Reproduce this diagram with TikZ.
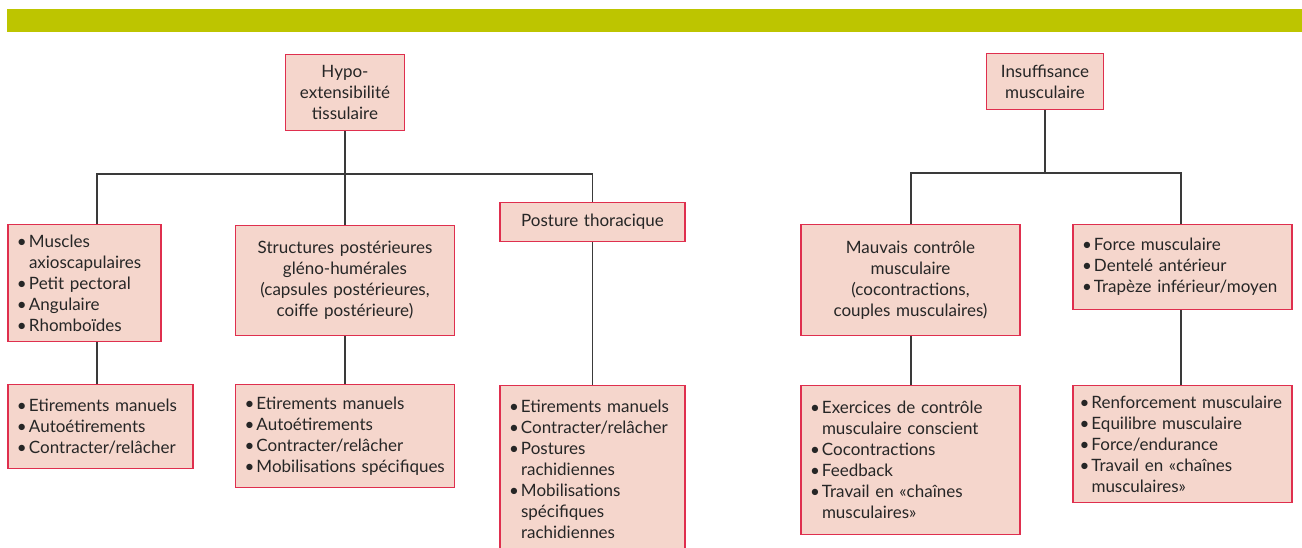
\documentclass[tikz,border=0pt]{standalone}
\usepackage{fontspec}
\setmainfont{Lato}
\definecolor{barcol}{HTML}{BDC500}
\definecolor{boxfill}{HTML}{F5D6CC}
\definecolor{boxline}{HTML}{DF2F4E}
\definecolor{linecol}{HTML}{3A3A3A}
\newcommand\bul{\makebox[6pt][l]{\textbullet}}
\newcommand\cont{\hspace*{6pt}}
\begin{document}
\begin{tikzpicture}[
    x=0.5pt, y=-0.5pt,
    every node/.style = {draw=boxline, fill=boxfill, line width=0.6pt, anchor=north,
      inner xsep=4.5pt, inner ysep=3pt, font=\fontsize{8.5}{10.5}\selectfont, text=black!85},
    ctr/.style = {align=center},
    lst/.style = {align=left},
    conn/.style = {draw=linecol, line width=0.6pt}
  ]
  \useasboundingbox (0,0) rectangle (1302,547);
  \fill[barcol] (7,9) rectangle (1302,32);
  % upper boxes
  \node[ctr, minimum width=59.5pt, text width=50.5pt, minimum height=38pt] (hypo) at (345,54) {Hypo-\\extensibilité\\tissulaire};
  \node[ctr, minimum width=58.5pt, text width=49.5pt, minimum height=28pt] (insuf) at (1045,53) {Insuffisance\\musculaire};
  % middle boxes
  \node[lst, minimum width=76.5pt, text width=67.5pt, minimum height=58.5pt] (muscles) at (84.5,224)
    {\bul Muscles\\\cont axioscapulaires\\\bul Petit pectoral\\\bul Angulaire\\\bul Rhomboïdes};
  \node[ctr, minimum width=109.5pt, text width=100.5pt, minimum height=55pt] (struct) at (345,225)
    {Structures postérieures\\gléno-humérales\\(capsules postérieures,\\coiffe postérieure)};
  \node[ctr, minimum width=92.5pt, text width=83.5pt, minimum height=19.5pt] (posture) at (592.5,202) {Posture thoracique};
  \node[ctr, minimum width=109.5pt, text width=100.5pt, minimum height=55.5pt] (mauvais) at (910.5,224)
    {Mauvais contrôle\\musculaire\\(cocontractions,\\couples musculaires)};
  \node[lst, minimum width=109.5pt, text width=100.5pt, minimum height=42.5pt] (force) at (1182.5,224)
    {\bul Force musculaire\\\bul Dentelé antérieur\\\bul Trapèze inférieur/moyen};
  % lower boxes
  \node[lst, minimum width=92.5pt, text width=83.5pt, minimum height=42pt] (etir1) at (100.5,384)
    {\bul Etirements manuels\\\bul Autoétirements\\\bul Contracter/relâcher};
  \node[lst, minimum width=109.5pt, text width=100.5pt, minimum height=51.5pt] (etir2) at (345,384)
    {\bul Etirements manuels\\\bul Autoétirements\\\bul Contracter/relâcher\\\bul Mobilisations spécifiques};
  \node[lst, minimum width=92.5pt, text width=83.5pt, minimum height=83.5pt] (etir3) at (592.5,385)
    {\bul Etirements manuels\\\bul Contracter/relâcher\\\bul Postures\\\cont rachidiennes\\\bul Mobilisations\\\cont spécifiques\\\cont rachidiennes};
  \node[lst, minimum width=109.5pt, text width=100.5pt, minimum height=74.5pt] (exer) at (910.5,385)
    {\bul Exercices de contrôle\\\cont musculaire conscient\\\bul Cocontractions\\\bul Feedback\\\bul Travail en «chaînes\\\cont musculaires»};
  \node[lst, minimum width=109.5pt, text width=103pt, inner xsep=3.25pt, minimum height=58.5pt] (renf) at (1182.5,385)
    {\mbox{\bul Renforcement musculaire}\\\bul Equilibre musculaire\\\bul Force/endurance\\\bul Travail en «chaînes\\\cont musculaires»};
  % connectors
  \coordinate (l1) at (97,174);
  \coordinate (l3) at (592.5,174);
  \coordinate (r1) at (911,173);
  \coordinate (r2) at (1181,173);
  \draw[conn] (l1 |- muscles.north) -- (l1) -- (l3) -- (l3 |- posture.north);
  \draw[conn] (hypo.south) -- (struct.north);
  \draw[conn] (l1 |- muscles.south) -- (l1 |- etir1.north);
  \draw[conn] (struct.south) -- (etir2.north);
  \draw[conn] (posture.south) -- (etir3.north);
  \draw[conn] (r1 |- mauvais.north) -- (r1) -- (r2) -- (r2 |- force.north);
  \draw[conn] (insuf.south) -- (insuf.south |- r1);
  \draw[conn] (r1 |- mauvais.south) -- (r1 |- exer.north);
  \draw[conn] (r2 |- force.south) -- (r2 |- renf.north);
\end{tikzpicture}
\end{document}
